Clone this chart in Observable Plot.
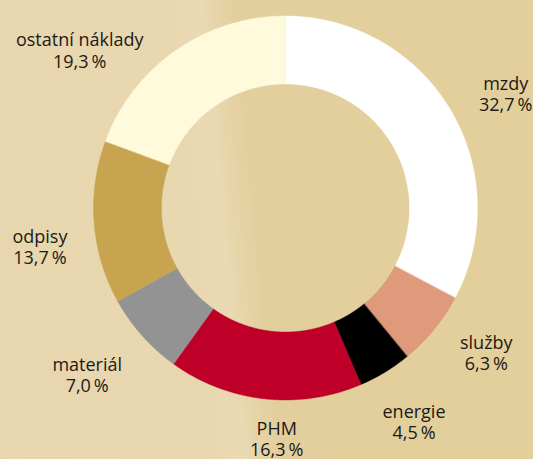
<!DOCTYPE html>
<html>
<head>
<meta charset="utf-8">
<script src="https://cdn.jsdelivr.net/npm/d3@7"></script>
<script src="https://cdn.jsdelivr.net/npm/@observablehq/plot@0.6"></script>
<style>
  html, body { margin: 0; padding: 0; }
  body { width: 533px; height: 459px; overflow: hidden;
    background: linear-gradient(84.5deg, #e8d6ae 0%, #e9d7b0 38%, #eadab4 42%, #e6d3a6 45.5%, #e3cf9d 48.5%, #e3cf9c 100%); }
  #chart svg { display: block; }
</style>
</head>
<body>
<div id="chart"></div>
<script>
// Data
const categories = ["mzdy", "služby", "energie", "PHM", "materiál", "odpisy", "ostatní náklady"];
const shares = [32.7, 6.3, 4.5, 16.3, 7.0, 13.7, 19.3];
const colors = ["#ffffff", "#de9a7a", "#000000", "#be0029", "#939393", "#c8a450", "#fffadb"];

// Layout (not data)
const W = 533, H = 459;
const cx = 285.5, cy = 208;
const rOuter = 192, rInner = 124;
const labelAngleNudge = [3.4, -3.5, 0.2, -4.0, 1.8, -4.5, -17.7];
const labelRadius = [248, 247, 248.5, 230, 259, 249, 260];

const total = d3.sum(shares);
const fmt = v => v.toFixed(1).replace(".", ",") + "\u2009%";

// build ring-segment outlines from cumulative shares
const pts = [];
const labelsData = [];
let acc = 0;
categories.forEach((cat, i) => {
  const a0 = acc / total * 360;
  acc += shares[i];
  const a1 = acc / total * 360;
  const n = Math.max(2, Math.ceil((a1 - a0) * 2));
  for (let k = 0; k <= n; k++) {
    const a = (a0 + (a1 - a0) * k / n) * Math.PI / 180;
    pts.push({cat, ox: rOuter * Math.sin(a), oy: rOuter * Math.cos(a),
                   ix: rInner * Math.sin(a), iy: rInner * Math.cos(a)});
  }
  const am = ((a0 + a1) / 2 + labelAngleNudge[i]) * Math.PI / 180;
  labelsData.push({cat, text: cat + "\n" + fmt(shares[i]),
    x: labelRadius[i] * Math.sin(am), y: labelRadius[i] * Math.cos(am)});
});

const chart = Plot.plot({
  width: W, height: H,
  margin: 0,
  style: {background: "transparent", fontFamily: "'Open Sans', sans-serif"},
  x: {domain: [-cx, W - cx], range: [0, W], axis: null},
  y: {domain: [-(H - cy), cy], range: [H, 0], axis: null},
  color: {domain: categories, range: colors},
  marks: [
    Plot.area(pts, {x1: "ox", y1: "oy", x2: "ix", y2: "iy", z: "cat", fill: "cat",
      stroke: "cat", strokeWidth: 0.4, curve: "linear"}),
    Plot.text(labelsData, {x: "x", y: "y", text: "text", fill: "#1c1a16",
      fontSize: 18, lineHeight: 1.17, textAnchor: "middle", lineAnchor: "middle"})
  ]
});
document.getElementById("chart").append(chart);
</script>
</body>
</html>
